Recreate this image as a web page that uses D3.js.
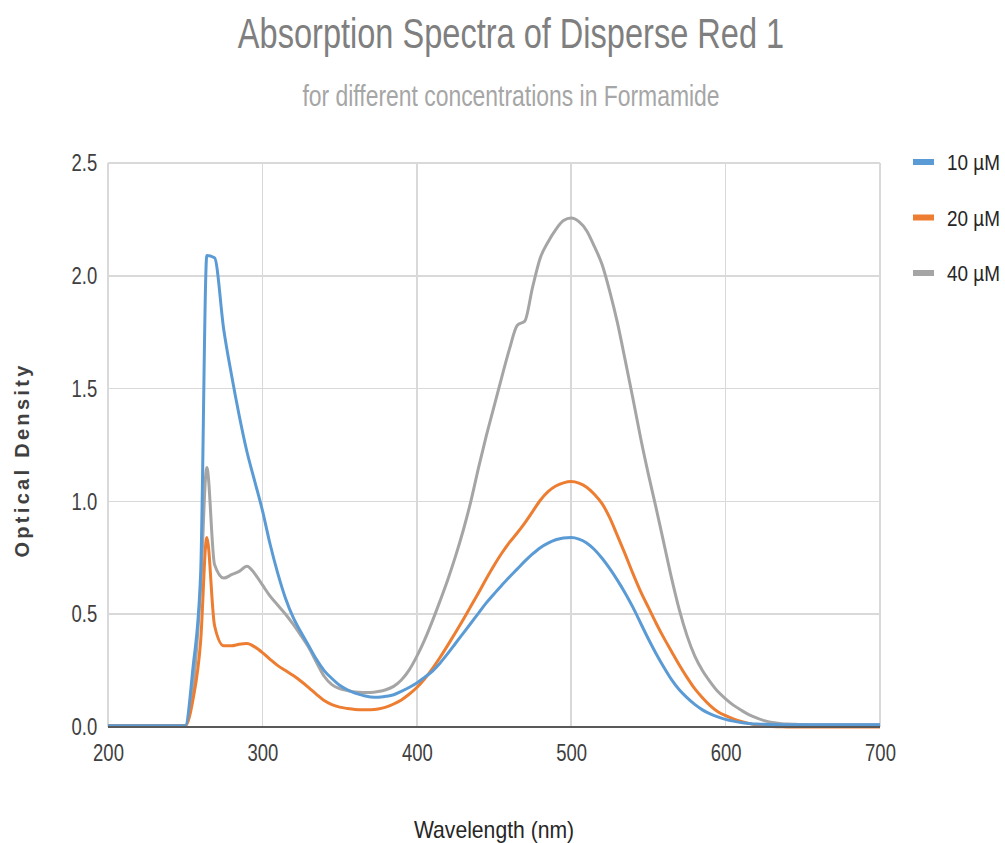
<!DOCTYPE html>
<html>
<head>
<meta charset="UTF-8">
<title>Absorption Spectra of Disperse Red 1</title>
<script src="https://d3js.org/d3.v7.min.js"></script>
<style>
    body { margin: 0; background: #fff; }
    .grid line { stroke: #d9d9d9; stroke-width: 1.5; shape-rendering: crispEdges; }
    .axis text { font: 24px "Liberation Sans", sans-serif; fill: #404040; }
    .axis path, .axis line { display: none; }
    .series { fill: none; stroke-width: 3; stroke-linejoin: round; }
</style>
</head>
<body>
<script>

var wavelengths = [200, 250, 255, 260, 264, 269, 275, 280, 285, 290, 295, 300, 305, 310, 315, 320, 325, 330, 335, 340,
    345, 350, 355, 360, 365, 370, 375, 380, 385, 390, 395, 400, 405, 410, 415, 420, 425, 430, 435, 440,
    445, 450, 455, 460, 465, 470, 475, 480, 485, 490, 495, 500, 505, 510, 515, 520, 525, 530, 535, 540,
    545, 550, 555, 560, 565, 570, 575, 580, 585, 590, 595, 600, 605, 610, 615, 620, 625, 630, 635, 640,
    645, 650, 660, 670, 680, 690, 700];

var od10 = [0.005, 0.005, 0.26, 0.68, 2.09, 2.08, 1.76, 1.56, 1.38, 1.22, 1.09, 0.96, 0.81, 0.68, 0.57, 0.485, 0.42, 0.36, 0.3, 0.25,
    0.215, 0.185, 0.165, 0.15, 0.14, 0.133, 0.132, 0.136, 0.143, 0.158, 0.175, 0.195, 0.22, 0.247, 0.283, 0.325, 0.37, 0.415, 0.46, 0.505,
    0.55, 0.59, 0.628, 0.665, 0.7, 0.735, 0.767, 0.795, 0.815, 0.83, 0.838, 0.84, 0.833, 0.816, 0.787, 0.748, 0.702, 0.65, 0.593, 0.53,
    0.46, 0.39, 0.325, 0.265, 0.21, 0.165, 0.13, 0.1, 0.076, 0.058, 0.045, 0.034, 0.026, 0.02, 0.016, 0.013, 0.012, 0.011, 0.01, 0.01,
    0.01, 0.01, 0.01, 0.01, 0.01, 0.01, 0.01];

var od20 = [0.005, 0.005, 0.12, 0.38, 0.84, 0.45, 0.36, 0.36, 0.367, 0.37, 0.355, 0.33, 0.3, 0.272, 0.25, 0.228, 0.203, 0.175, 0.145, 0.117,
    0.099, 0.088, 0.082, 0.078, 0.077, 0.077, 0.08, 0.088, 0.102, 0.12, 0.145, 0.175, 0.213, 0.258, 0.308, 0.362, 0.418, 0.475, 0.535, 0.595,
    0.657, 0.716, 0.77, 0.818, 0.86, 0.905, 0.955, 1.005, 1.043, 1.068, 1.082, 1.088, 1.081, 1.063, 1.032, 0.99, 0.927, 0.847, 0.765, 0.68,
    0.6, 0.53, 0.46, 0.395, 0.335, 0.275, 0.22, 0.17, 0.13, 0.095, 0.068, 0.05, 0.036, 0.025, 0.016, 0.009, 0.005, 0.002, 0.001, 0,
    0, 0, 0, 0, 0, 0, 0];

var od40 = [0.005, 0.005, 0.16, 0.62, 1.15, 0.72, 0.66, 0.675, 0.69, 0.713, 0.68, 0.63, 0.58, 0.54, 0.5, 0.455, 0.405, 0.352, 0.287, 0.225,
    0.188, 0.17, 0.162, 0.155, 0.153, 0.153, 0.157, 0.165, 0.18, 0.208, 0.252, 0.313, 0.385, 0.468, 0.558, 0.652, 0.755, 0.87, 1.0, 1.15,
    1.29, 1.42, 1.55, 1.675, 1.78, 1.8, 1.95, 2.08, 2.15, 2.205, 2.245, 2.256, 2.24, 2.2, 2.13, 2.05, 1.93, 1.79, 1.625, 1.455,
    1.28, 1.12, 0.97, 0.815, 0.66, 0.52, 0.405, 0.315, 0.25, 0.2, 0.157, 0.125, 0.097, 0.075, 0.055, 0.04, 0.028, 0.02, 0.016, 0.013,
    0.012, 0.011, 0.01, 0.01, 0.01, 0.01, 0.01];

var seriesNames = ["10 \u00b5M", "20 \u00b5M", "40 \u00b5M"];
var seriesColors = ["#5b9bd5", "#ed7d31", "#a5a5a5"];
var xTicks = [200, 300, 400, 500, 600, 700];
var yTicks = [0, 0.5, 1, 1.5, 2, 2.5];

var margin = {top: 163, right: 125, bottom: 116, left: 108},
    width = 1005 - margin.left - margin.right,
    height = 843 - margin.top - margin.bottom;

var squeeze = 0.77; // the reference text is set in a narrow face

var x = d3.scaleLinear().domain([200, 700]).range([0, width]);
var y = d3.scaleLinear().domain([0, 2.5]).range([height, 0]);

var svg = d3.select("body").append("svg")
    .attr("width", 1005)
    .attr("height", 843);

function label(px, py, sx, txt) {
    return svg.append("text")
        .attr("transform", "translate(" + px + "," + py + ") scale(" + sx + ",1)")
        .attr("text-anchor", "middle")
        .style("font-family", "'Liberation Sans', sans-serif")
        .text(txt);
}

label(511, 48, 0.775, "Absorption Spectra of Disperse Red 1")
    .style("font-size", "42px")
    .style("fill", "#7f7f7f");

label(511, 106, 0.79, "for different concentrations in Formamide")
    .style("font-size", "29px")
    .style("fill", "#a6a6a6");

var g = svg.append("g")
    .attr("transform", "translate(" + margin.left + "," + margin.top + ")");

// gridlines
g.append("g").attr("class", "grid")
    .selectAll("line").data(yTicks).enter().append("line")
    .attr("x1", 0).attr("x2", width)
    .attr("y1", function (d) { return y(d); })
    .attr("y2", function (d) { return y(d); });

g.append("g").attr("class", "grid")
    .selectAll("line").data(xTicks).enter().append("line")
    .attr("y1", 0).attr("y2", height)
    .attr("x1", function (d) { return x(d); })
    .attr("x2", function (d) { return x(d); });

g.append("g").attr("class", "x axis")
    .attr("transform", "translate(0," + height + ")")
    .call(d3.axisBottom(x).tickValues(xTicks).tickSize(0).tickPadding(17).tickFormat(d3.format("d")))
    .selectAll("text").attr("transform", "scale(" + squeeze + ",1)");

g.append("g").attr("class", "y axis")
    .call(d3.axisLeft(y).tickValues(yTicks).tickSize(0).tickPadding(14).tickFormat(d3.format(".1f")))
    .selectAll("text").attr("transform", "scale(" + squeeze + ",1)");

var line = d3.line()
    .curve(d3.curveMonotoneX)
    .x(function (d) { return x(d[0]); })
    .y(function (d) { return y(d[1]); });

var allSeries = [od10, od20, od40];

[2, 1, 0].forEach(function (i) {
    g.append("path")
        .datum(wavelengths.map(function (w, j) { return [w, allSeries[i][j]]; }))
        .attr("class", "series")
        .attr("stroke", seriesColors[i])
        .attr("d", line);
});

// baseline
g.append("line")
    .attr("x1", 0).attr("x2", width)
    .attr("y1", height).attr("y2", height)
    .attr("stroke", "#595959").attr("stroke-width", 2);

// axis titles
svg.append("text")
    .attr("transform", "translate(29,460) rotate(-90)")
    .attr("text-anchor", "middle")
    .style("font", "bold 20px 'Liberation Sans', sans-serif")
    .style("letter-spacing", "3.3px")
    .style("fill", "#404040")
    .text("Optical Density");

label(494, 838, 0.92, "Wavelength (nm)")
    .style("font-size", "23px")
    .style("fill", "#262626");

// legend
var legend = svg.append("g").attr("transform", "translate(913,162)");
seriesNames.forEach(function (name, i) {
    var row = legend.append("g").attr("transform", "translate(0," + i * 55.5 + ")");
    row.append("rect")
        .attr("x", 0).attr("y", -3)
        .attr("width", 21).attr("height", 6)
        .attr("fill", seriesColors[i]);
    row.append("text")
        .attr("transform", "translate(34,8) scale(0.86,1)")
        .style("font", "22px 'Liberation Sans', sans-serif")
        .style("fill", "#262626")
        .text(name);
});

</script>
</body>
</html>
